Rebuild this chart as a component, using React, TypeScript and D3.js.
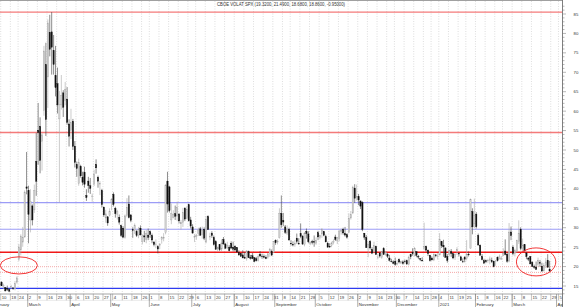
import React from "react";
import * as d3 from "d3";

// ---------- text ----------
const title = "CBOE VOLAT SPX (19.3200, 21.4900, 18.6800, 18.8600, -0.95000)";
const monthNames = ["January", "February", "March", "April", "May", "June", "July", "August", "September", "October", "November", "December"];

// ---------- calendar ----------
const calendarStart = "2020-02-03";
const calendarEnd = "2021-04-09";
const firstDataDay = "2020-02-06";
const holidays = ["2020-02-17", "2020-04-10", "2020-05-25", "2020-07-03", "2020-09-07", "2020-11-26", "2020-12-25", "2021-01-01", "2021-01-18", "2021-02-15", "2021-04-02"];

// ---------- price levels ----------
const yTicks = [15, 20, 25, 30, 35, 40, 45, 50, 55, 60, 65, 70, 75, 80, 85];
const lightRedLevels = [85.47, 54.5];
const lightBlueLevels = [36.45, 29.6];
const redLevels = [23.68];
const dottedLevels = [19.97, 18.5];
const blueLevels = [14.4];

// ---------- OHLC [open, high, low, close] ----------
const feb20 = [
  [15.2, 15.6, 14.7, 14.96], [15.5, 16.1, 14.9, 15.47], [16.0, 16.2, 15.0, 15.04], [14.8, 15.6, 14.2, 15.18],
  [14.6, 14.7, 13.6, 13.74], [14.4, 15.1, 13.7, 14.15], [14.1, 14.4, 13.4, 13.68], [14.6, 15.3, 14.3, 14.83],
  [14.5, 14.7, 14.0, 14.38], [14.3, 16.3, 13.9, 15.56], [16.0, 17.5, 15.6, 17.08], [21.9, 25.8, 21.4, 25.03],
  [24.3, 28.3, 22.9, 27.85], [26.3, 30.2, 25.1, 27.56], [27.6, 39.6, 27.5, 39.16], [40.5, 49.5, 38.6, 40.11],
];
const mar20 = [
  [39.6, 40.8, 26.0, 33.42], [32.0, 39.9, 28.8, 36.82], [35.6, 36.0, 30.6, 31.99], [34.6, 41.1, 33.8, 39.62],
  [47.1, 54.4, 38.2, 41.94], [55.1, 62.1, 46.2, 54.46], [56.1, 58.4, 44.0, 47.3], [52.2, 54.4, 44.7, 53.9],
  [60.1, 76.8, 58.8, 75.47], [72.0, 77.6, 53.6, 57.83], [68.8, 83.6, 60.8, 82.69], [80.3, 84.8, 74.1, 75.91],
  [80.4, 85.5, 69.4, 76.45], [75.6, 79.6, 69.4, 72.0], [69.2, 76.8, 63.8, 66.04], [67.1, 71.2, 59.4, 61.59],
  [58.0, 65.2, 36.5, 61.67], [61.6, 69.3, 60.4, 63.95], [64.7, 65.4, 58.5, 61.0], [62.7, 67.5, 61.5, 65.54],
  [63.1, 66.2, 56.5, 57.08], [56.7, 57.9, 50.9, 53.54],
];
const apr20 = [
  [55.0, 60.6, 52.8, 57.06], [57.4, 58.0, 50.0, 50.91], [51.0, 52.3, 45.5, 46.8], [46.3, 47.0, 43.1, 45.24],
  [41.3, 47.8, 40.8, 46.7], [45.8, 46.2, 42.9, 43.35], [43.0, 44.4, 40.9, 41.67], [44.3, 45.7, 40.3, 41.17],
  [38.3, 39.9, 36.9, 37.76], [42.0, 43.1, 39.0, 40.84], [40.8, 42.8, 38.7, 40.11], [38.0, 38.8, 36.7, 38.15],
  [41.2, 44.9, 40.7, 43.83], [46.3, 47.6, 43.9, 45.41], [43.0, 43.4, 40.3, 41.98], [41.3, 42.0, 38.4, 41.38],
  [39.6, 40.0, 35.2, 35.93], [35.3, 35.4, 32.8, 33.29], [32.5, 34.6, 31.3, 33.57], [32.8, 33.0, 30.5, 31.23],
  [33.2, 35.0, 32.9, 34.15],
];
const may20 = [
  [36.5, 37.6, 34.5, 37.19], [38.6, 39.1, 35.5, 35.97], [35.0, 35.4, 32.6, 33.61], [33.5, 34.6, 32.1, 34.12],
  [32.7, 33.4, 30.8, 31.44], [30.5, 30.8, 27.6, 27.98], [29.9, 30.4, 27.3, 27.57], [27.4, 33.4, 27.2, 33.04],
  [33.1, 37.6, 32.7, 35.28], [36.1, 38.3, 32.4, 32.61], [33.3, 33.4, 31.4, 31.89], [29.5, 30.1, 27.4, 29.3],
  [29.2, 31.1, 28.4, 30.53], [29.0, 29.4, 27.6, 27.99], [28.0, 30.2, 27.3, 29.53], [29.9, 30.6, 28.0, 28.16],
  [26.4, 28.3, 25.7, 27.91], [27.9, 29.2, 26.3, 27.62], [26.9, 29.4, 26.0, 28.59], [28.1, 29.8, 26.8, 27.51],
];
const jun20 = [
  [29.0, 29.3, 27.4, 28.23], [28.0, 28.5, 26.0, 26.84], [26.3, 26.6, 25.2, 25.66], [25.6, 27.0, 24.7, 25.81],
  [25.1, 25.5, 23.4, 24.52], [25.5, 26.0, 24.5, 25.81], [27.0, 27.8, 25.9, 27.57], [27.3, 28.6, 26.5, 27.57],
  [28.7, 41.2, 28.3, 40.79], [42.0, 44.4, 33.9, 36.09], [40.5, 40.8, 33.9, 34.4], [32.0, 36.2, 30.9, 33.67],
  [32.6, 34.5, 32.4, 33.47], [33.6, 35.7, 32.0, 32.94], [33.0, 36.7, 31.8, 35.12], [33.5, 33.8, 31.1, 31.77],
  [31.0, 32.0, 29.5, 31.37], [31.4, 35.1, 30.2, 33.84], [35.0, 35.3, 31.7, 32.22], [32.4, 35.5, 32.2, 34.73],
  [35.9, 36.2, 31.6, 31.78], [32.0, 32.8, 29.8, 30.43],
];
const jul20 = [
  [30.2, 30.9, 28.5, 28.62], [27.6, 28.4, 26.3, 27.68], [27.9, 28.4, 26.9, 27.94], [28.6, 30.0, 27.9, 29.43],
  [29.7, 30.2, 27.9, 28.08], [28.2, 30.3, 27.2, 29.26], [29.6, 30.1, 26.8, 27.29], [26.3, 33.0, 26.0, 32.19],
  [32.9, 33.2, 29.4, 29.52], [27.7, 28.7, 26.8, 27.76], [28.6, 29.1, 27.4, 28.0], [27.5, 28.0, 25.4, 25.68],
  [26.4, 26.8, 24.3, 24.46], [24.5, 25.2, 23.9, 24.84], [25.6, 25.6, 24.0, 24.32], [24.5, 27.0, 24.0, 26.08],
  [27.0, 27.6, 25.6, 25.84], [25.8, 26.1, 24.5, 24.74], [24.9, 26.4, 24.5, 25.44], [25.0, 25.5, 23.9, 24.1],
  [26.0, 26.5, 24.5, 24.76], [25.0, 26.4, 23.9, 24.46],
];
const aug20 = [
  [25.2, 25.5, 23.9, 24.28], [24.9, 25.0, 23.5, 23.76], [23.6, 24.2, 22.8, 22.99], [23.4, 23.5, 22.5, 22.65],
  [23.0, 24.2, 22.2, 22.21], [22.4, 23.7, 22.1, 22.13], [22.0, 24.2, 21.5, 24.03], [23.8, 24.1, 22.2, 22.28],
  [22.4, 23.0, 21.8, 22.13], [22.8, 23.5, 21.9, 22.05], [22.3, 22.4, 21.1, 21.35], [22.0, 22.5, 21.3, 21.51],
  [21.6, 23.2, 21.3, 22.54], [23.2, 24.0, 22.4, 22.72], [22.7, 23.3, 22.0, 22.54], [22.6, 23.1, 22.1, 22.37],
  [22.4, 22.9, 21.9, 22.03], [22.4, 23.5, 22.0, 23.27], [23.3, 24.8, 22.5, 24.47], [23.9, 24.4, 22.7, 22.96],
  [23.7, 26.5, 23.5, 26.41],
];
const sep20 = [
  [26.7, 27.0, 25.6, 26.12], [26.3, 27.0, 25.7, 26.57], [27.5, 35.0, 27.2, 33.6], [33.7, 38.3, 30.0, 30.75],
  [31.9, 33.8, 30.4, 31.46], [30.2, 30.7, 28.4, 28.81], [28.6, 30.6, 28.1, 29.71], [29.6, 30.0, 26.6, 26.87],
  [26.0, 26.8, 25.4, 25.85], [25.7, 26.5, 25.2, 25.59], [25.6, 26.8, 25.1, 26.04], [27.3, 28.5, 25.9, 26.46],
  [26.0, 27.3, 25.6, 25.83], [28.5, 31.1, 27.3, 27.78], [27.8, 28.1, 25.6, 25.79], [25.7, 28.9, 25.2, 28.58],
  [29.1, 29.8, 27.2, 28.51], [28.4, 29.1, 26.0, 26.38], [26.0, 26.5, 25.5, 26.19], [26.4, 26.9, 25.7, 26.27],
  [26.4, 28.0, 25.1, 26.37],
];
const oct20 = [
  [26.0, 27.5, 25.6, 26.7], [28.7, 29.2, 26.8, 27.63], [27.4, 28.2, 27.0, 27.96], [28.4, 29.9, 27.4, 29.48],
  [29.0, 29.2, 27.8, 28.06], [27.7, 28.2, 26.2, 26.36], [26.0, 26.4, 24.9, 25.0], [25.2, 26.0, 24.8, 25.07],
  [25.5, 26.4, 25.0, 26.07], [26.2, 27.0, 25.7, 26.4], [27.6, 28.2, 26.6, 26.97], [26.6, 27.6, 25.8, 27.41],
  [27.3, 29.3, 26.5, 29.18], [29.0, 29.8, 28.2, 29.35], [29.6, 30.0, 28.2, 28.65], [28.5, 30.2, 27.7, 28.11],
  [28.2, 28.6, 27.2, 27.55], [28.8, 33.7, 28.6, 32.46], [32.5, 34.3, 32.1, 33.35], [33.8, 40.8, 33.5, 40.28],
  [40.2, 41.2, 36.4, 37.59], [37.7, 41.1, 37.0, 38.02],
];
const nov20 = [
  [38.0, 38.7, 35.8, 37.13], [36.9, 36.9, 34.8, 35.55], [36.5, 36.8, 29.1, 29.57], [28.6, 28.6, 26.9, 27.58],
  [27.5, 28.1, 24.8, 24.86], [24.9, 26.4, 22.4, 25.75], [26.5, 26.8, 24.4, 24.8], [24.4, 25.0, 23.2, 23.45],
  [23.9, 26.4, 23.4, 25.35], [25.2, 25.4, 23.0, 23.1], [22.4, 23.2, 21.9, 22.45], [23.5, 23.7, 22.3, 22.71],
  [22.4, 24.0, 22.0, 23.84], [24.6, 25.0, 23.0, 23.11], [23.1, 24.0, 22.8, 23.7], [23.1, 23.5, 22.2, 22.66],
  [22.2, 23.0, 21.3, 21.64], [21.4, 22.0, 21.1, 21.25], [21.2, 21.6, 20.6, 20.84], [21.4, 22.3, 20.2, 20.57],
];
const dec20 = [
  [20.7, 21.7, 20.3, 20.77], [21.8, 22.1, 20.8, 21.17], [20.9, 21.5, 20.7, 21.28], [21.2, 21.6, 20.5, 20.79],
  [21.4, 21.8, 20.8, 21.3], [21.5, 21.8, 20.4, 20.68], [20.6, 22.8, 20.3, 22.27], [23.1, 23.3, 21.9, 22.52],
  [23.7, 24.7, 22.8, 23.31], [22.9, 25.0, 22.6, 24.72], [23.8, 24.0, 22.4, 22.89], [22.6, 23.0, 21.9, 22.5],
  [22.0, 22.2, 21.4, 21.93], [21.6, 22.4, 21.4, 21.57], [24.6, 31.3, 24.2, 25.16], [25.2, 25.4, 23.8, 24.23],
  [24.2, 24.4, 22.7, 23.31], [22.9, 23.0, 21.3, 21.53], [22.2, 22.6, 21.6, 21.7], [21.7, 23.4, 21.4, 23.08],
  [23.0, 23.2, 22.4, 22.77], [22.6, 23.5, 21.8, 22.75],
];
const jan21 = [
  [23.0, 28.6, 22.9, 26.97], [26.4, 26.6, 24.8, 25.34], [25.5, 26.9, 22.5, 25.07], [24.8, 24.9, 22.3, 22.37],
  [22.6, 23.2, 21.0, 21.56], [23.1, 24.3, 22.6, 24.08], [23.8, 24.5, 22.5, 23.33], [23.3, 23.5, 21.9, 22.21],
  [22.4, 23.3, 21.7, 23.25], [23.9, 25.0, 23.0, 24.34], [23.4, 23.6, 22.6, 23.24], [22.5, 22.8, 21.5, 21.58],
  [21.4, 22.1, 20.9, 21.32], [22.4, 22.7, 21.1, 21.91], [22.0, 26.8, 21.6, 23.19], [23.2, 23.9, 22.6, 23.02],
  [24.7, 37.5, 24.6, 37.21], [34.2, 35.0, 28.3, 30.21], [31.0, 37.5, 29.9, 33.09],
];
const feb21 = [
  [33.5, 34.0, 29.8, 30.24], [28.0, 28.5, 25.4, 25.56], [25.5, 25.7, 22.8, 22.91], [22.6, 23.2, 21.6, 21.77],
  [21.5, 22.0, 20.8, 20.87], [21.5, 21.8, 20.9, 21.24], [21.6, 22.0, 21.0, 21.63], [21.5, 22.6, 20.6, 21.99],
  [21.5, 22.3, 20.9, 21.25], [21.4, 21.5, 19.8, 19.97], [21.3, 21.7, 20.2, 21.46], [22.4, 22.6, 21.3, 21.5],
  [22.1, 23.1, 21.8, 22.49], [22.0, 22.7, 21.8, 22.05], [22.8, 24.7, 22.7, 23.45], [24.0, 27.0, 22.9, 23.11],
  [23.2, 23.6, 21.0, 21.34], [21.4, 31.2, 21.1, 28.89], [28.9, 30.3, 26.8, 27.95],
];
const mar21 = [
  [25.0, 25.5, 22.9, 23.35], [23.3, 24.6, 22.6, 24.1], [23.9, 26.9, 23.5, 26.67], [26.4, 31.9, 25.8, 28.57],
  [29.6, 30.1, 24.2, 24.66], [24.7, 27.2, 24.0, 25.47], [25.6, 25.7, 23.9, 24.03], [23.5, 23.7, 21.9, 22.56],
  [22.2, 22.4, 21.4, 21.91], [22.6, 22.7, 20.6, 20.69], [21.1, 21.4, 19.9, 20.03], [20.0, 20.5, 19.4, 19.79],
  [19.9, 21.3, 19.2, 19.23], [20.6, 22.3, 19.9, 21.58], [21.0, 21.7, 19.9, 20.95], [20.1, 21.0, 18.6, 18.88],
  [18.9, 20.9, 18.7, 20.3], [20.3, 22.2, 19.6, 21.2], [21.6, 23.2, 19.8, 19.81], [19.32, 21.49, 18.68, 18.86],
];

// annotation ellipses in data units: [centre day, centre value, radius in days, radius in value]
const ellipses = [
  ["2020-02-24", 20.3, 9.6, 2.2],
  ["2021-03-17", 21.2, 10.2, 3.6],
];

const W = 580, H = 307;
const plotRight = 562.5, plotTop = 1, plotBottom = 294;

export default function App() {
  const parse = d3.utcParse("%Y-%m-%d");
  const fmt = d3.utcFormat("%Y-%m-%d");
  const hol = new Set(holidays);
  const days = d3.utcDay
    .range(parse(calendarStart)!, d3.utcDay.offset(parse(calendarEnd)!, 1))
    .filter((d) => d.getUTCDay() !== 0 && d.getUTCDay() !== 6 && !hol.has(fmt(d)));
  const idxOf = (s: string) => days.findIndex((d) => fmt(d) === s);
  const anchor = idxOf("2020-02-10");
  const x = d3.scaleLinear().domain([anchor, anchor + 285]).range([1.5, 1.5 + 285 * 1.93]);
  const y = d3.scaleLinear().domain([85, 15]).range([14, 286]);

  const start = idxOf(firstDataDay);
  const all = [...feb20, ...mar20, ...apr20, ...may20, ...jun20, ...jul20, ...aug20, ...sep20, ...oct20, ...nov20, ...dec20, ...jan21, ...feb21, ...mar21];
  const candles = all.map((c, k) => ({ i: start + k, o: c[0], h: c[1], l: c[2], c: c[3] }));

  const weekTicks: { i: number; label: string }[] = [];
  const monthTicks: { i: number; label: string }[] = [];
  days.forEach((d, i) => {
    const prev = i > 0 ? days[i - 1] : null;
    if (!prev || +d3.utcMonday.floor(d) !== +d3.utcMonday.floor(prev)) weekTicks.push({ i, label: String(d.getUTCDate()) });
    if (!prev || d.getUTCMonth() !== prev.getUTCMonth()) {
      const m = d.getUTCMonth();
      monthTicks.push({ i, label: m === 0 ? String(d.getUTCFullYear()) : monthNames[m] });
    }
  });
  const tx = (i: number) => x(i) - 0.8;
  const bw = 1.3;
  const font = "'Liberation Sans', Arial, sans-serif";
  const minor = d3.range(13, 88, 1);

  const hline = (v: number, color: string, width: number, dash?: string, key?: string) => (
    <line key={key} x1={0} x2={plotRight} y1={y(v)} y2={y(v)} stroke={color} strokeWidth={width} strokeDasharray={dash} />
  );

  return (
    <div style={{ position: "fixed", left: 0, top: 0 }}>
      <svg width={W} height={H} style={{ display: "block", background: "#fff" }} fontFamily={font}>
        <defs>
          <clipPath id="plot">
            <rect x={0} y={plotTop} width={plotRight} height={plotBottom - plotTop} />
          </clipPath>
          <clipPath id="axisrows">
            <rect x={0} y={plotBottom} width={plotRight} height={H - plotBottom} />
          </clipPath>
        </defs>
        <rect x={0} y={0} width={W} height={H} fill="#fff" />
        {/* vertical weekly grid */}
        <g clipPath="url(#plot)">
          {weekTicks.map((t) => (
            <line key={"g" + t.i} x1={tx(t.i)} x2={tx(t.i)} y1={plotTop} y2={plotBottom} stroke="#c8c8c8" strokeWidth={0.6} strokeDasharray="1,1.5" />
          ))}
        </g>
        {/* levels */}
        <g clipPath="url(#plot)">
          {lightRedLevels.map((v, k) => hline(v, "#f47a7a", 1.3, undefined, "lr" + k))}
          {lightBlueLevels.map((v, k) => hline(v, "#9c9cf6", 1.1, undefined, "lb" + k))}
          {redLevels.map((v, k) => hline(v, "#f01818", 1.3, undefined, "r" + k))}
          {dottedLevels.map((v, k) => hline(v, "#f4a0a0", 0.9, "1,1", "d" + k))}
          {blueLevels.map((v, k) => hline(v, "#2f3cf0", 1.3, undefined, "b" + k))}
        </g>
        {/* candles */}
        <g clipPath="url(#plot)">
          {candles.map((d) => {
            const up = d.c >= d.o;
            const cx = x(d.i);
            const top = y(Math.max(d.o, d.c));
            const bot = y(Math.min(d.o, d.c));
            return (
              <g key={"c" + d.i}>
                <line x1={cx} x2={cx} y1={y(d.h)} y2={y(d.l)} stroke={up ? "#a8a8a8" : "#404040"} strokeWidth={0.6} />
                <rect x={cx - bw / 2} y={top} width={bw} height={Math.max(0.6, bot - top)} fill={up ? "#d2d2d2" : "#111"} stroke={up ? "#a0a0a0" : "#111"} strokeWidth={0.35} />
              </g>
            );
          })}
        </g>
        {/* ellipses */}
        <g clipPath="url(#plot)">
          {ellipses.map((e, k) => {
            const ci = idxOf(e[0] as string);
            const cx = x(ci);
            const rx = x(ci + (e[2] as number)) - cx;
            const cy = y(e[1] as number);
            const ry = y((e[1] as number) - (e[3] as number)) - cy;
            return <ellipse key={"e" + k} cx={cx} cy={cy} rx={rx} ry={ry} fill="none" stroke="#f02020" strokeWidth={0.9} />;
          })}
        </g>
        {/* frame */}
        <line x1={0} x2={plotRight} y1={0.5} y2={0.5} stroke="#a0a0a0" strokeWidth={1} />
        <line x1={0} x2={plotRight} y1={plotBottom} y2={plotBottom} stroke="#909090" strokeWidth={0.8} />
        <line x1={0} x2={plotRight} y1={300.3} y2={300.3} stroke="#d0d0d0" strokeWidth={0.5} />
        <line x1={plotRight} x2={plotRight} y1={0} y2={H} stroke="#707070" strokeWidth={0.9} />
        {/* title */}
        <text x={281} y={6.2} fontSize={4.6} fill="#333" textAnchor="middle" textLength={128} lengthAdjust="spacingAndGlyphs">{title}</text>
        {/* date rows */}
        <g clipPath="url(#axisrows)" fill="#333" fontSize={4.3}>
          {weekTicks.map((t) => (
            <g key={"w" + t.i}>
              <line x1={tx(t.i)} x2={tx(t.i)} y1={plotBottom} y2={300.3} stroke="#888" strokeWidth={0.5} />
              <text x={tx(t.i) + 1} y={299.2}>{t.label}</text>
            </g>
          ))}
          {monthTicks.map((t) => (
            <g key={"m" + t.i}>
              <line x1={tx(t.i)} x2={tx(t.i)} y1={plotBottom} y2={H} stroke="#777" strokeWidth={0.6} />
              <text x={tx(t.i) + 1} y={305.6}>{t.label}</text>
            </g>
          ))}
        </g>
        {/* right axis */}
        <g>
          {minor.map((v) => (
            <line key={"mt" + v} x1={plotRight} x2={plotRight + (v % 5 === 0 ? 3.5 : 2)} y1={y(v)} y2={y(v)} stroke="#707070" strokeWidth={0.5} />
          ))}
          {yTicks.map((v) => (
            <text key={"yt" + v} x={576} y={y(v) + 1.5} fontSize={4.3} fill="#333" textAnchor="middle">{v}</text>
          ))}
        </g>
      </svg>
    </div>
  );
}
